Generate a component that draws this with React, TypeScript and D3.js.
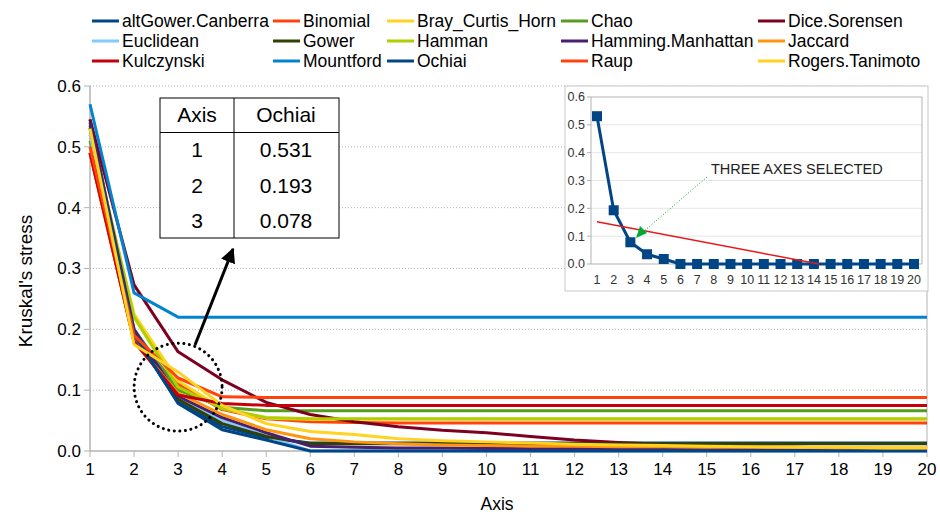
import * as d3 from "d3"

// category axis
const axes = [1, 2, 3, 4, 5, 6, 7, 8, 9, 10, 11, 12, 13, 14, 15, 16, 17, 18, 19, 20]
const yTicks = [0, 0.1, 0.2, 0.3, 0.4, 0.5, 0.6]

const names = [
    "altGower.Canberra", "Binomial", "Bray_Curtis_Horn", "Chao", "Dice.Sorensen",
    "Euclidean", "Gower", "Hamman", "Hamming.Manhattan", "Jaccard",
    "Kulczynski", "Mountford", "Ochiai", "Raup", "Rogers.Tanimoto",
]
const colors = [
    "#004586", "#ff420e", "#ffd320", "#579d1c", "#7e0021",
    "#83caff", "#314004", "#aecf00", "#4b1f6f", "#ff950e",
    "#c5000b", "#0084d1", "#004586", "#ff420e", "#ffd320",
]

const altGower = [0.545, 0.19, 0.08, 0.04, 0.022, 0.013, 0.013, 0.013, 0.013, 0.013, 0.013, 0.013, 0.013, 0.013, 0.013, 0.013, 0.013, 0.013, 0.013, 0.013]
const binomial = [0.49, 0.18, 0.11, 0.068, 0.053, 0.048, 0.047, 0.046, 0.046, 0.046, 0.046, 0.046, 0.046, 0.046, 0.046, 0.046, 0.046, 0.046, 0.046, 0.046]
const brayCurtis = [0.52, 0.225, 0.115, 0.07, 0.054, 0.052, 0.052, 0.052, 0.052, 0.052, 0.052, 0.052, 0.052, 0.052, 0.052, 0.052, 0.052, 0.052, 0.052, 0.052]
const chao = [0.51, 0.2, 0.1, 0.072, 0.066, 0.066, 0.066, 0.066, 0.066, 0.066, 0.066, 0.066, 0.066, 0.066, 0.066, 0.066, 0.066, 0.066, 0.066, 0.066]
const dice = [0.545, 0.273, 0.163, 0.117, 0.08, 0.06, 0.048, 0.04, 0.034, 0.03, 0.024, 0.018, 0.014, 0.011, 0.009, 0.007, 0.006, 0.005, 0.004, 0.003]
const euclidean = [0.52, 0.2, 0.09, 0.05, 0.025, 0, 0, 0, 0, 0, 0, 0, 0, 0, 0, 0, 0, 0, 0, 0]
const gower = [0.535, 0.195, 0.085, 0.045, 0.024, 0.012, 0.012, 0.012, 0.012, 0.012, 0.012, 0.012, 0.012, 0.012, 0.012, 0.012, 0.012, 0.012, 0.012, 0.012]
const hamman = [0.53, 0.22, 0.105, 0.07, 0.055, 0.053, 0.053, 0.053, 0.053, 0.053, 0.053, 0.053, 0.053, 0.053, 0.053, 0.053, 0.053, 0.053, 0.053, 0.053]
const hamming = [0.54, 0.2, 0.09, 0.055, 0.03, 0.008, 0.006, 0.005, 0.005, 0.004, 0.004, 0.004, 0.004, 0.004, 0.004, 0.004, 0.004, 0.004, 0.004, 0.004]
const jaccard = [0.49, 0.18, 0.095, 0.06, 0.035, 0.02, 0.015, 0.012, 0.01, 0.009, 0.008, 0.008, 0.007, 0.007, 0.006, 0.006, 0.006, 0.005, 0.005, 0.005]
const kulczynski = [0.49, 0.18, 0.092, 0.078, 0.075, 0.075, 0.075, 0.075, 0.075, 0.075, 0.075, 0.075, 0.075, 0.075, 0.075, 0.075, 0.075, 0.075, 0.075, 0.075]
const mountford = [0.57, 0.26, 0.22, 0.22, 0.22, 0.22, 0.22, 0.22, 0.22, 0.22, 0.22, 0.22, 0.22, 0.22, 0.22, 0.22, 0.22, 0.22, 0.22, 0.22]
const ochiai = [0.531, 0.193, 0.078, 0.035, 0.018, 0, 0, 0, 0, 0, 0, 0, 0, 0, 0, 0, 0, 0, 0, 0]
const raup = [0.5, 0.19, 0.12, 0.089, 0.088, 0.088, 0.088, 0.088, 0.088, 0.088, 0.088, 0.088, 0.088, 0.088, 0.088, 0.088, 0.088, 0.088, 0.088, 0.088]
const rogers = [0.53, 0.175, 0.13, 0.075, 0.045, 0.032, 0.027, 0.02, 0.017, 0.015, 0.013, 0.011, 0.01, 0.009, 0.008, 0.007, 0.006, 0.006, 0.005, 0.005]

const series = [altGower, binomial, brayCurtis, chao, dice, euclidean, gower, hamman, hamming, jaccard, kulczynski, mountford, ochiai, raup, rogers]

// table in the top left
const tableAxes = ["1", "2", "3"]
const tableOchiai = ["0.531", "0.193", "0.078"]

// red reference line in the inset (axis, stress)
const refLine = [[1, 0.152], [14.3, 0]]

const FONT = "'Liberation Sans', Arial, sans-serif"

const App = () => {
    const x = d3.scaleLinear().domain([1, 20]).range([90, 927])
    const y = d3.scaleLinear().domain([0, 0.6]).range([451, 86])

    const line = d3.line<number>()
        .x((d, i) => x(axes[i]))
        .y(d => y(d))

    // inset scales
    const ix = d3.scaleLinear().domain([1, 20]).range([597, 914])
    const iy = d3.scaleLinear().domain([0, 0.6]).range([264, 97])
    const iline = d3.line<number>()
        .x((d, i) => ix(axes[i]))
        .y(d => iy(d))

    const legendCols = [92, 273, 387, 561, 758]
    const legendRows = [21, 41, 61]

    return (
        <svg width={940} height={516} style={{ position: "absolute", left: 0, top: 0, background: "#fff" }} fontFamily={FONT}>
            <defs>
                <marker id="blackHead" viewBox="0 0 10 10" refX="9" refY="5" markerWidth="5" markerHeight="5" orient="auto">
                    <path d="M0,0 L10,5 L0,10 z" fill="#000" />
                </marker>
            </defs>

            {/* grid */}
            {yTicks.filter(t => t > 0).map(t => (
                <line key={t} x1={x(1)} x2={x(20)} y1={y(t)} y2={y(t)} stroke="#b3b3b3" strokeDasharray="1,2" />
            ))}
            {/* axes */}
            <line x1={x(1)} x2={x(1)} y1={y(0.6)} y2={y(0)} stroke="#b3b3b3" strokeWidth={1.5} />
            <line x1={x(20)} x2={x(20)} y1={y(0.6)} y2={y(0)} stroke="#b3b3b3" />
            <line x1={x(1)} x2={x(20)} y1={y(0)} y2={y(0)} stroke="#b3b3b3" strokeWidth={1.5} />
            {yTicks.map(t => (
                <g key={t}>
                    <line x1={x(1) - 6} x2={x(1)} y1={y(t)} y2={y(t)} stroke="#b3b3b3" />
                    <text x={x(1) - 9} y={y(t)} dy="0.35em" textAnchor="end" fontSize={17} fill="#000">{t.toFixed(1)}</text>
                </g>
            ))}
            {axes.map(a => (
                <g key={a}>
                    <line x1={x(a)} x2={x(a)} y1={y(0)} y2={y(0) + 6} stroke="#b3b3b3" />
                    <text x={x(a)} y={y(0) + 24} textAnchor="middle" fontSize={17} fill="#000">{a}</text>
                </g>
            ))}
            <text x={497} y={510} textAnchor="middle" fontSize={17.5}>Axis</text>
            <text transform="translate(32,281) rotate(-90)" textAnchor="middle" fontSize={19}>Kruskal's stress</text>

            {/* series */}
            {series.map((s, i) => (
                <path key={names[i]} d={line(s) ?? ""} fill="none" stroke={colors[i]} strokeWidth={3} strokeLinejoin="round" />
            ))}

            {/* legend */}
            {names.map((n, i) => {
                const cx = legendCols[i % 5]
                const cy = legendRows[Math.floor(i / 5)]
                return (
                    <g key={n}>
                        <line x1={cx} x2={cx + 27} y1={cy} y2={cy} stroke={colors[i]} strokeWidth={3} />
                        <text x={cx + 30} y={cy} dy="0.35em" fontSize={17.5}>{n}</text>
                    </g>
                )
            })}

            {/* table */}
            <g>
                <rect x={160} y={98} width={179} height={140} fill="#fff" stroke="#000" strokeWidth={1} />
                <line x1={160} x2={339} y1={132.5} y2={132.5} stroke="#000" />
                <line x1={234} x2={234} y1={98} y2={238} stroke="#000" />
                <text x={197} y={115} dy="0.35em" textAnchor="middle" fontSize={21}>Axis</text>
                <text x={286} y={115} dy="0.35em" textAnchor="middle" fontSize={21}>Ochiai</text>
                {tableAxes.map((a, i) => (
                    <g key={a}>
                        <text x={197} y={150 + i * 35.5} dy="0.35em" textAnchor="middle" fontSize={21}>{a}</text>
                        <text x={286} y={150 + i * 35.5} dy="0.35em" textAnchor="middle" fontSize={21}>{tableOchiai[i]}</text>
                    </g>
                ))}
            </g>

            {/* circle + arrow */}
            <circle cx={x(3)} cy={y(0.105)} r={44} fill="none" stroke="#000" strokeWidth={3} strokeDasharray="0.1,5.5" strokeLinecap="round" />
            <line x1={195} y1={345} x2={233} y2={249} stroke="#000" strokeWidth={3} markerEnd="url(#blackHead)" />

            {/* inset */}
            <g>
                <rect x={565} y={86} width={363} height={205} fill="#fff" stroke="#c8c8c8" />
                {yTicks.map(t => (
                    <g key={t}>
                        <line x1={591} x2={922} y1={iy(t)} y2={iy(t)} stroke={t === 0 || t === 0.6 ? "#b3b3b3" : "#e6e6e6"} />
                        <line x1={587} x2={591} y1={iy(t)} y2={iy(t)} stroke="#b3b3b3" />
                        <text x={585} y={iy(t)} dy="0.35em" textAnchor="end" fontSize={12.5} fill="#333">{t.toFixed(1)}</text>
                    </g>
                ))}
                <line x1={591} x2={591} y1={iy(0.6)} y2={iy(0)} stroke="#b3b3b3" />
                <line x1={922} x2={922} y1={iy(0.6)} y2={iy(0)} stroke="#b3b3b3" />
                {axes.map(a => (
                    <text key={a} x={ix(a)} y={iy(0) + 16} dy="0.35em" textAnchor="middle" fontSize={12.5} fill="#333">{a}</text>
                ))}
                <path d={iline(ochiai) ?? ""} fill="none" stroke="#004586" strokeWidth={3} />
                {ochiai.map((v, i) => (
                    <rect key={i} x={ix(axes[i]) - 5} y={iy(v) - 5} width={10} height={10} fill="#004586" />
                ))}
                <line x1={ix(refLine[0][0])} y1={iy(refLine[0][1])} x2={ix(refLine[1][0])} y2={iy(refLine[1][1])} stroke="#e8191a" strokeWidth={1.5} />
                <line x1={707} y1={177} x2={643} y2={232} stroke="#00a933" strokeWidth={1} strokeDasharray="1,2" />
                <path d="M636,238 L640,226 L647,233 Z" fill="#00a933" />
                <text x={711} y={174} fontSize={14.5} fill="#222">THREE AXES SELECTED</text>
            </g>
        </svg>
    )
}

export default App
